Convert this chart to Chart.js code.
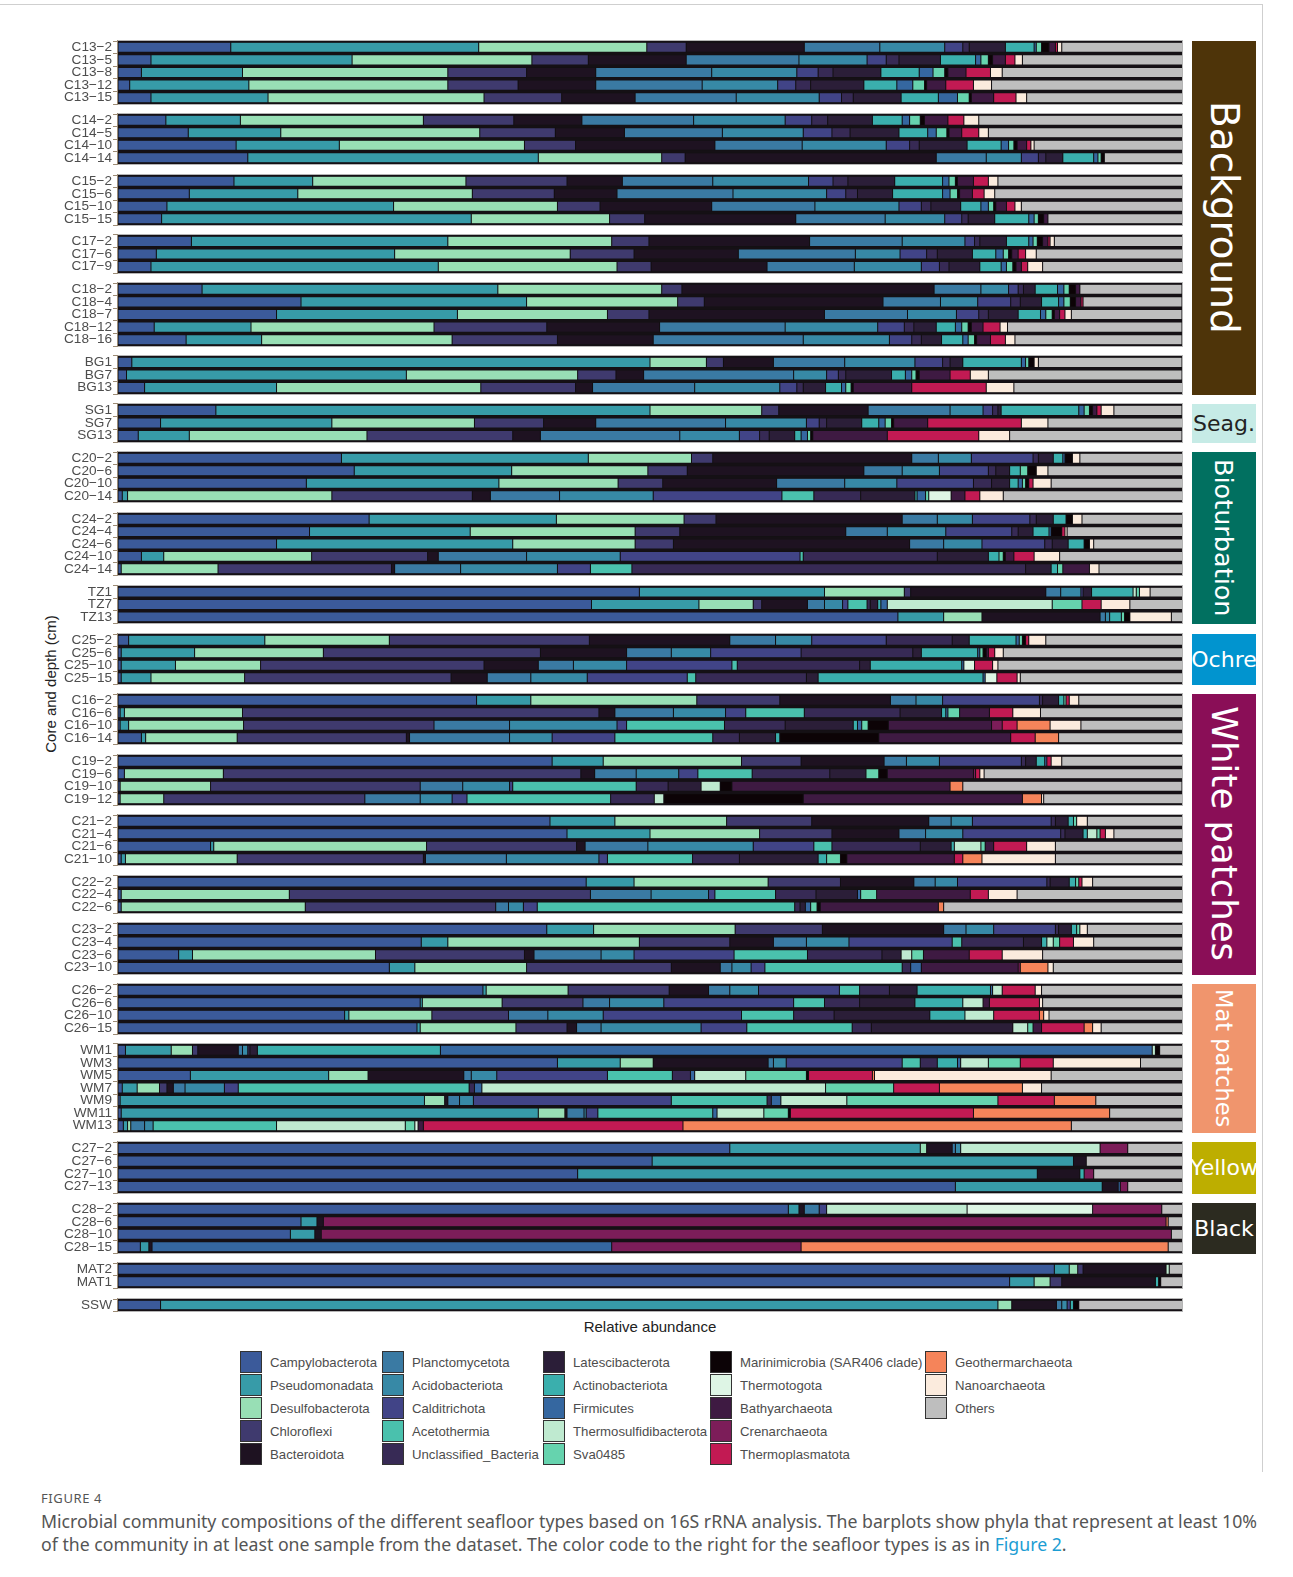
<!DOCTYPE html>
<html>
<head>
<meta charset="utf-8">
<script src="https://cdn.jsdelivr.net/npm/chart.js@4.4.0/dist/chart.umd.min.js"></script>
<style>
  body { margin: 0; background: #fff; }
  #lienzo { position: relative; width: 1293px; height: 1577px; overflow: hidden; font-family: "Liberation Sans", Arial, sans-serif; }
  .panel { position: absolute; left: 0; }
  .franja { position: absolute; left: 1192px; width: 64px; display: flex; align-items: center; justify-content: center; overflow: hidden; font-family: "DejaVu Sans", sans-serif; white-space: nowrap; }
  .vertical { writing-mode: vertical-rl; }
  .item { position: absolute; height: 22px; display: flex; align-items: center; font-size: 13.2px; color: #4d4d4d; white-space: nowrap; }
  .caja { width: 20px; height: 20px; border: 1px solid #333; margin-right: 8px; flex: none; }
  .titulo { position: absolute; font-size: 15px; color: #222; white-space: nowrap; }
  .pie { position: absolute; left: 41px; font-family: "Noto Sans", sans-serif; color: #555; white-space: nowrap; }
</style>
</head>
<body>
<div id="lienzo">
  <div style="position:absolute;left:0;top:4px;width:1262px;height:1px;background:#cfcfcf"></div>
  <div style="position:absolute;left:1262px;top:4px;width:1px;height:1468px;background:#cfcfcf"></div>
  <div class="titulo" style="left:50px;top:684px;transform:translate(-50%,-50%) rotate(-90deg)">Core and depth (cm)</div>
  <div class="titulo" style="left:650px;top:1326px;transform:translate(-50%,-50%)">Relative abundance</div>
  <div class="pie" style="top:1489px;font-size:13px;letter-spacing:0.6px">FIGURE 4</div>
  <div class="pie" style="top:1509px;font-size:17.7px">Microbial community compositions of the different seafloor types based on 16S rRNA analysis. The barplots show phyla that represent at least 10%</div>
  <div class="pie" style="top:1532px;font-size:17.7px">of the community in at least one sample from the dataset. The color code to the right for the seafloor types is as in <span style="color:#1c9dd3">Figure 2</span>.</div>
</div>
<script>
const phyla = ["Campylobacterota", "Pseudomonadata", "Desulfobacterota", "Chloroflexi", "Bacteroidota",
    "Planctomycetota", "Acidobacteriota", "Calditrichota", "Acetothermia", "Unclassified_Bacteria",
    "Latescibacterota", "Actinobacteriota", "Firmicutes", "Thermosulfidibacterota", "Sva0485",
    "Marinimicrobia (SAR406 clade)", "Thermotogota", "Bathyarchaeota", "Crenarchaeota", "Thermoplasmatota",
    "Geothermarchaeota", "Nanoarchaeota", "Others"];

const colores = ["#3b5a9a", "#379ba8", "#98dfb5", "#3f3a6e", "#1e1221",
    "#3a7aa3", "#3789a6", "#414487", "#4ac1ad", "#372a55",
    "#2b1e38", "#3aafad", "#3567a0", "#bfead0", "#66d3ae",
    "#0c0306", "#def5e5", "#3e1a42", "#7c1d59", "#c21a53",
    "#f5845a", "#fbebdd", "#bebebe"];

// columnas: Ca Ps De Ch Ba Pl Ac Cd At Un La Act Fi Ts Sv Ma Tt By Cr Tp Ge Na Ot
const c13Labels = ["C13−2", "C13−5", "C13−8", "C13−12", "C13−15"];
const c13Values = [
    [10.6, 23.3, 15.8, 3.7, 11.1, 7.1, 6.1, 1.7, 0, 0.6, 3.4, 2.7, 0.2, 0, 0.5, 0.7, 0, 0.6, 0, 0.2, 0, 0.4, 11.5],
    [3.1, 18.9, 16.9, 5.3, 9.2, 10.6, 6.4, 1.8, 0, 1.2, 3.9, 3.3, 0.5, 0, 0.7, 0.4, 0, 1.2, 0, 0.9, 0, 0.7, 15.2],
    [2.2, 9.5, 19.3, 7.4, 6.5, 10.9, 8.0, 2.0, 0, 1.4, 4.5, 3.6, 1.3, 0, 1.1, 0.3, 0, 1.7, 0, 2.3, 0, 1.1, 17.1],
    [1.1, 11.2, 18.7, 6.6, 7.3, 10.0, 7.1, 1.7, 0, 1.4, 5.0, 3.1, 1.5, 0, 1.1, 0.2, 0, 1.8, 0, 2.6, 0, 1.7, 18.0],
    [3.1, 11.0, 20.3, 7.3, 6.9, 9.5, 7.8, 2.1, 0, 1.1, 4.5, 3.5, 1.8, 0, 1.1, 0.2, 0, 2.1, 0, 2.1, 0, 1.0, 14.7]
];

const c14Labels = ["C14−2", "C14−5", "C14−10", "C14−14"];
const c14Values = [
    [4.5, 7.0, 17.2, 8.5, 6.4, 10.5, 8.6, 2.5, 0, 1.5, 4.2, 2.8, 0.7, 0, 1.0, 0.4, 0, 2.2, 0, 1.5, 0, 1.4, 19.2],
    [6.6, 8.7, 18.7, 7.1, 6.5, 9.2, 7.6, 2.7, 0, 1.7, 4.6, 2.7, 0.8, 0, 1.0, 0.2, 0, 1.2, 0, 1.6, 0, 0.9, 18.3],
    [11.1, 9.7, 17.4, 4.8, 13.1, 8.2, 7.9, 2.2, 0, 0.9, 4.5, 3.2, 0.7, 0, 0.5, 0.3, 0, 0.9, 0, 0.4, 0, 0.3, 14.0],
    [12.2, 27.3, 11.6, 2.2, 23.6, 4.7, 3.3, 1.6, 0, 0.7, 1.6, 2.9, 0.4, 0, 0.3, 0.3, 0, 0, 0, 0, 0, 0, 7.4]
];

const c15Labels = ["C15−2", "C15−6", "C15−10", "C15−15"];
const c15Values = [
    [10.9, 7.4, 14.4, 9.5, 5.2, 8.5, 9.0, 2.3, 0, 1.4, 4.4, 4.5, 0.6, 0, 0.6, 0.2, 0, 1.5, 0, 1.4, 0, 0.9, 17.4],
    [6.7, 10.2, 16.4, 7.7, 5.9, 10.9, 8.8, 1.8, 0, 1.1, 3.3, 4.7, 0.7, 0, 0.7, 0.2, 0, 1.2, 0, 1.1, 0, 1.0, 17.7],
    [4.6, 21.3, 15.4, 4.0, 10.5, 9.7, 7.9, 2.1, 0, 0.9, 2.8, 1.9, 0.7, 0, 0.5, 0.2, 0, 1.0, 0, 0.8, 0, 0.6, 15.2],
    [4.1, 29.1, 13.0, 3.3, 14.2, 8.4, 5.6, 1.6, 0, 0.6, 2.5, 3.2, 0.5, 0, 0.4, 0.5, 0, 0.4, 0, 0, 0, 0, 12.7]
];

const c17Labels = ["C17−2", "C17−6", "C17−9"];
const c17Values = [
    [6.9, 24.1, 15.4, 3.5, 15.1, 8.7, 5.9, 0.9, 0, 0.5, 2.5, 2.1, 0.4, 0, 0.4, 0.5, 0, 0.5, 0, 0.2, 0, 0.4, 12.1],
    [3.6, 22.4, 16.5, 6.0, 9.8, 11.0, 4.2, 2.5, 0, 1.0, 3.3, 2.2, 0.7, 0, 0.5, 0.3, 0, 0.6, 0, 0.7, 0, 1.0, 13.8],
    [3.1, 27.0, 16.8, 3.2, 10.9, 8.2, 6.3, 1.7, 0, 0.9, 2.9, 2.0, 0.5, 0, 0.6, 0.3, 0, 0.5, 0, 0.6, 0, 1.4, 13.2]
];

const c18Labels = ["C18−2", "C18−4", "C18−7", "C18−12", "C18−16"];
const c18Values = [
    [7.9, 27.8, 15.4, 1.9, 23.7, 4.4, 2.6, 0.9, 0, 0.5, 1.1, 2.1, 0.6, 0, 0.5, 0.6, 0, 0.4, 0, 0, 0, 0, 9.6],
    [17.2, 21.2, 14.2, 2.5, 16.8, 5.4, 3.5, 3.1, 0, 0.9, 2.0, 1.6, 0.5, 0, 0.6, 0.5, 0, 0.5, 0, 0.2, 0, 0, 9.3],
    [14.9, 17.0, 14.1, 3.9, 16.5, 7.8, 4.6, 2.1, 0, 0.9, 2.8, 2.1, 0.5, 0, 0.6, 0.2, 0, 0.5, 0, 0.5, 0, 0.6, 10.4],
    [3.4, 9.1, 17.2, 10.6, 10.6, 11.8, 8.7, 2.5, 0, 0.9, 2.1, 1.8, 0.6, 0, 0.6, 0.3, 0, 1.1, 0, 1.6, 0, 0.7, 16.4],
    [6.4, 7.1, 17.9, 9.9, 9.0, 14.1, 8.1, 2.1, 0, 0.9, 1.9, 2.0, 0.5, 0, 0.6, 0.2, 0, 1.3, 0, 1.4, 0, 0.9, 15.7]
];

const bgLabels = ["BG1", "BG7", "BG13"];
const bgValues = [
    [1.3, 48.7, 5.3, 1.6, 4.7, 6.7, 6.6, 2.6, 0, 0.7, 1.2, 5.5, 0.4, 0, 0.3, 0.5, 0, 0, 0, 0, 0, 0.4, 13.5],
    [0.8, 26.3, 16.1, 3.6, 2.6, 14.1, 3.1, 1.1, 0, 0.7, 4.3, 1.3, 0.6, 0, 0.4, 0.3, 0, 2.9, 0, 1.9, 0, 1.7, 18.2],
    [2.5, 12.4, 19.2, 8.9, 1.6, 9.6, 8.0, 1.6, 0, 0.6, 2.1, 1.5, 0.4, 0, 0.5, 0.2, 0, 5.5, 0, 7.0, 0, 2.6, 16.0]
];

const sgLabels = ["SG1", "SG7", "SG13"];
const sgValues = [
    [9.2, 40.8, 10.5, 1.6, 8.4, 7.7, 3.1, 0.9, 0, 0.5, 0.3, 7.3, 0.5, 0, 0.5, 0.3, 0, 0.4, 0, 0.4, 0, 1.2, 6.4],
    [4.0, 16.1, 13.4, 6.5, 4.9, 12.2, 7.6, 1.2, 0, 0.7, 3.3, 1.6, 0.6, 0, 0.6, 0.2, 0, 3.2, 0, 8.8, 0, 2.5, 12.8],
    [1.9, 4.8, 16.7, 13.7, 2.6, 13.1, 5.6, 1.9, 0, 0.9, 2.4, 0.6, 0.6, 0, 0.3, 0.2, 0, 7.0, 0, 8.6, 0, 2.9, 16.2]
];

const c20Labels = ["C20−2", "C20−6", "C20−10", "C20−14"];
const c20Values = [
    [21.0, 23.2, 9.7, 2.0, 18.7, 2.5, 3.1, 5.8, 0, 0.5, 1.4, 0.9, 0.2, 0, 0, 0.7, 0, 0, 0, 0, 0, 0.7, 9.7],
    [22.2, 14.8, 12.8, 3.7, 16.6, 3.6, 3.5, 4.6, 0, 0.7, 1.3, 1.0, 0, 0, 0.7, 0.8, 0, 0, 0, 0, 0, 1.1, 12.7],
    [17.7, 18.1, 11.2, 4.2, 10.7, 6.4, 4.9, 7.2, 0, 1.7, 1.7, 0.8, 0.4, 0, 0.3, 0.3, 0, 0, 0, 0.4, 0, 1.7, 12.4],
    [0.4, 0.5, 19.2, 13.2, 1.7, 6.5, 8.8, 12.1, 3.0, 4.4, 5.1, 0.2, 0.8, 0, 0.3, 0, 2.1, 1.3, 0, 1.4, 0, 2.2, 16.9]
];

const c24Labels = ["C24−2", "C24−4", "C24−6", "C24−10", "C24−14"];
const c24Values = [
    [23.6, 17.6, 12.0, 3.0, 17.5, 3.3, 3.3, 5.4, 0, 0.6, 1.6, 1.2, 0, 0, 0, 0.6, 0, 0, 0, 0, 0, 0.9, 9.5],
    [18.0, 15.1, 15.5, 4.2, 15.6, 3.9, 5.5, 6.2, 0, 0.6, 1.4, 1.5, 0.2, 0, 0, 1.0, 0, 0, 0, 0.3, 0, 0.2, 10.9],
    [14.9, 22.2, 11.5, 3.6, 22.2, 3.2, 3.6, 5.9, 0, 0.7, 1.5, 1.5, 0, 0, 0, 0.5, 0, 0, 0, 0, 0, 0.4, 8.4],
    [2.2, 2.1, 13.9, 10.9, 1.0, 8.3, 8.8, 16.9, 0.3, 12.6, 4.8, 1.0, 0, 0, 0.4, 0.2, 0, 0.8, 0, 1.9, 0, 2.4, 11.6],
    [0.3, 0, 9.1, 16.3, 0.3, 6.2, 9.1, 3.1, 3.9, 37.0, 2.4, 0.6, 0, 0, 0.5, 0, 0, 2.5, 0, 0, 0, 0.9, 7.9]
];

const tzLabels = ["TZ1", "TZ7", "TZ13"];
const tzValues = [
    [49.0, 17.4, 7.5, 0.6, 12.7, 1.4, 1.9, 0.2, 0, 0, 0.8, 3.9, 0, 0.3, 0.3, 0, 0, 0, 0, 0, 0, 1.0, 3.1],
    [44.5, 10.1, 5.1, 0.8, 4.3, 1.6, 1.7, 0.5, 1.8, 0.3, 0.7, 0.3, 0.6, 15.5, 2.8, 0, 0, 0, 0, 1.8, 0, 2.7, 5.0],
    [73.3, 4.3, 3.6, 0, 11.1, 0.5, 0.4, 0, 0, 0, 0, 1.1, 0, 0, 0.3, 0.5, 0, 0, 0, 0, 0, 3.9, 1.1]
];

const c25Labels = ["C25−2", "C25−6", "C25−10", "C25−15"];
const c25Values = [
    [1.0, 12.8, 11.7, 18.8, 13.2, 4.3, 3.4, 7.0, 0, 6.2, 1.6, 4.4, 0.3, 0, 0.3, 0.3, 0, 0, 0, 0.3, 0, 1.6, 12.9],
    [0.3, 6.9, 12.1, 20.4, 8.1, 4.2, 3.7, 8.5, 0, 10.5, 0.8, 5.3, 0.2, 0, 0.3, 0.3, 0, 0.2, 0, 0.6, 0, 0.8, 16.9],
    [0.3, 5.1, 8.0, 21.0, 5.1, 3.3, 5.0, 9.9, 0.5, 11.5, 1.0, 8.6, 0.2, 0, 0, 0, 1.0, 0, 0, 1.7, 0, 0.5, 17.4],
    [0.3, 2.8, 8.8, 19.4, 3.4, 4.1, 5.3, 9.4, 0.8, 10.4, 1.1, 15.5, 0.2, 0, 0, 0, 1.1, 0, 0, 1.9, 0, 0.3, 15.3]
];

const c16Labels = ["C16−2", "C16−6", "C16−10", "C16−14"];
const c16Values = [
    [33.7, 5.1, 15.6, 7.8, 10.4, 2.4, 2.5, 9.1, 0, 0.3, 1.5, 0.5, 0, 0, 0.2, 0, 0, 0, 0, 0.3, 0, 0.9, 9.8],
    [0.2, 0.4, 11.1, 33.5, 1.5, 5.5, 4.9, 1.9, 5.5, 9.0, 3.9, 0.4, 0.2, 0, 1.1, 0, 0, 2.8, 0, 2.2, 0, 2.6, 13.4],
    [0.2, 0.8, 10.8, 17.9, 0, 7.1, 10.1, 0.9, 9.2, 5.7, 6.4, 0.4, 0.4, 0, 0.6, 1.9, 0, 9.7, 1.0, 1.4, 3.1, 2.9, 9.6],
    [2.2, 0.4, 8.6, 15.9, 0.3, 9.4, 4.0, 5.9, 9.2, 2.5, 3.4, 0.4, 0, 0, 0, 9.3, 0, 12.4, 0, 2.3, 2.2, 0, 11.7]
];

const c19Labels = ["C19−2", "C19−6", "C19−10", "C19−12"];
const c19Values = [
    [40.8, 4.8, 13.0, 5.6, 7.8, 2.1, 3.1, 7.7, 0, 0.4, 1.0, 0.8, 0.2, 0, 0, 0, 0, 0, 0, 0.4, 0, 1.0, 11.4],
    [0.6, 0, 9.3, 33.6, 1.3, 3.9, 4.0, 1.8, 5.1, 7.3, 3.4, 0, 0, 0, 1.2, 0.8, 0, 8.1, 0.2, 0.4, 0, 0.4, 18.7],
    [0.2, 0, 8.5, 19.7, 0, 4.0, 4.4, 0.3, 11.6, 3.0, 3.1, 0, 0, 1.8, 0, 1.1, 0, 20.5, 0, 0, 1.2, 0, 20.6],
    [0.2, 0, 4.1, 18.9, 0, 5.2, 3.0, 1.4, 13.5, 4.1, 0, 0, 0, 0.9, 0, 13.1, 0, 20.6, 0, 0, 1.8, 0.2, 13.1]
];

const c21Labels = ["C21−2", "C21−4", "C21−6", "C21−10"];
const c21Values = [
    [40.6, 6.1, 10.5, 8.0, 11.0, 2.1, 2.0, 7.4, 0, 0.4, 1.2, 0.5, 0, 0, 0.3, 0, 0, 0, 0, 0, 0, 1.0, 9.0],
    [42.2, 7.8, 10.3, 6.8, 6.3, 2.5, 3.5, 9.2, 0, 0.4, 1.7, 0.4, 0, 0.9, 0.3, 0, 0, 0, 0, 0.5, 0, 0.8, 6.5],
    [8.7, 0.3, 20.0, 14.1, 0.8, 5.9, 9.9, 5.7, 1.7, 8.3, 2.9, 0.3, 0, 2.5, 0.4, 0, 0, 0.8, 0, 3.1, 0, 2.7, 12.1],
    [0.3, 0.4, 10.5, 17.5, 0.2, 7.6, 8.7, 0.8, 8.0, 4.4, 7.4, 0.8, 0, 0, 1.3, 0.6, 0, 10.1, 0, 0.8, 1.8, 6.9, 12.0]
];

const c22Labels = ["C22−2", "C22−4", "C22−6"];
const c22Values = [
    [44.0, 4.5, 12.6, 6.8, 6.9, 2.0, 2.1, 8.4, 0, 0.3, 1.8, 0.6, 0, 0, 0.3, 0, 0, 0, 0, 0.3, 0, 1.0, 8.5],
    [0.3, 0, 15.8, 28.3, 0, 5.7, 5.4, 0.6, 5.7, 3.8, 3.9, 0, 0.3, 0, 1.5, 0, 0, 8.8, 0, 1.7, 0, 2.7, 15.6],
    [0.3, 0, 17.3, 17.9, 0, 1.2, 1.4, 1.3, 24.2, 0.5, 0.5, 0, 0.5, 0, 0.6, 0.3, 0, 11.1, 0, 0, 0.5, 0, 22.5]
];

const c23Labels = ["C23−2", "C23−4", "C23−6", "C23−10"];
const c23Values = [
    [40.3, 4.4, 13.3, 8.2, 11.4, 2.1, 2.6, 5.8, 0, 0.3, 1.2, 0.5, 0, 0, 0.3, 0, 0, 0, 0, 0, 0, 0.7, 9.0],
    [28.5, 2.5, 18.0, 8.5, 4.1, 3.1, 4.0, 9.7, 0.9, 5.8, 1.7, 0.5, 0, 0.6, 0.6, 0, 0, 0, 0, 1.3, 0, 1.9, 8.4],
    [5.7, 1.3, 17.2, 14.0, 0.9, 6.3, 3.1, 9.4, 6.9, 7.0, 1.8, 0, 0, 1.0, 1.1, 0, 0, 4.3, 0, 3.1, 0, 3.8, 13.2],
    [25.5, 2.4, 10.5, 13.6, 4.6, 1.1, 1.8, 1.3, 12.9, 0.8, 0, 0, 1.0, 0, 0, 0, 0, 9.1, 0.2, 0, 2.6, 0.5, 12.2]
];

const c26Labels = ["C26−2", "C26−6", "C26−10", "C26−15"];
const c26Values = [
    [34.3, 0.3, 7.7, 9.5, 3.7, 2.0, 2.7, 7.6, 1.9, 2.8, 2.6, 6.9, 0.2, 0.9, 0, 0, 0, 0, 0, 3.1, 0, 0.6, 13.3],
    [28.4, 0.2, 7.5, 7.6, 0, 2.5, 5.1, 12.2, 2.9, 3.3, 5.2, 4.5, 0, 1.9, 0, 0, 0, 0.6, 0, 4.7, 0, 0.3, 13.2],
    [21.3, 0.4, 7.8, 7.2, 0, 3.7, 5.2, 13.0, 4.9, 3.8, 9.0, 3.3, 0, 2.7, 0, 0, 0, 0, 0, 4.3, 0.4, 0.5, 12.6],
    [28.1, 0.3, 9.0, 4.8, 0.9, 2.3, 9.4, 4.3, 9.9, 1.8, 13.3, 0, 0, 1.4, 0.5, 0, 0, 0.8, 0, 4.0, 0.8, 0.8, 7.7]
];

const wmLabels = ["WM1", "WM3", "WM5", "WM7", "WM9", "WM11", "WM13"];
const wmValues = [
    [0.7, 4.3, 2.0, 0.5, 3.8, 0.4, 0.5, 0, 0, 0.2, 0.7, 17.2, 66.9, 0.3, 0, 0.4, 0, 0, 0, 0, 0, 0, 2.2],
    [41.3, 5.9, 3.1, 0, 10.8, 0.5, 1.2, 10.9, 1.7, 1.6, 0, 1.9, 0.3, 2.6, 3.0, 0, 0, 0, 0, 3.1, 0, 8.2, 4.0],
    [6.8, 13.0, 3.7, 0, 9.0, 0.7, 2.4, 10.4, 6.1, 1.7, 0, 0, 0.4, 4.8, 5.7, 0.2, 0, 0, 0, 6.0, 0.2, 16.6, 12.4],
    [0.4, 1.4, 2.1, 0.7, 0.6, 1.1, 3.7, 1.3, 21.7, 0.5, 0, 0, 0.7, 32.3, 6.4, 0, 0, 0, 0, 4.3, 7.8, 1.8, 13.3],
    [0.2, 28.6, 1.9, 0, 0.3, 1.1, 1.3, 18.6, 9.0, 0.4, 0, 0, 0.9, 6.2, 14.2, 0, 0, 0, 0, 5.3, 3.9, 0, 8.2],
    [0.3, 39.2, 2.5, 0, 0.2, 1.6, 0.2, 1.1, 10.8, 0, 0, 0, 0.4, 4.4, 2.3, 0.2, 0, 0, 0, 17.2, 12.8, 0, 6.9],
    [0.5, 0.4, 0.3, 0, 0, 1.3, 0.8, 0, 11.6, 0, 0, 0, 0, 12.1, 0.9, 0, 0.3, 0.5, 0, 24.4, 36.5, 0, 10.5]
];

const c27Labels = ["C27−2", "C27−6", "C27−10", "C27−13"];
const c27Values = [
    [57.5, 17.9, 0.6, 0, 2.4, 0.3, 0.5, 0, 0, 0, 0, 0, 0, 13.1, 0, 0, 0, 0, 2.6, 0, 0, 0, 5.2],
    [50.2, 39.6, 0, 0, 1.2, 0, 0, 0, 0, 0, 0, 0, 0, 0, 0, 0, 0, 0, 0, 0, 0, 0, 9.1],
    [43.2, 43.2, 0, 0, 4.0, 0, 0, 0, 0, 0, 0, 0.4, 0, 0, 0, 0, 0, 0, 0.9, 0, 0, 0, 8.4],
    [78.7, 13.8, 0, 0, 1.5, 0, 0, 0, 0, 0, 0, 0, 0.2, 0, 0, 0, 0, 0, 0.7, 0, 0, 0, 5.2]
];

const c28Labels = ["C28−2", "C28−6", "C28−10", "C28−15"];
const c28Values = [
    [63.0, 1.0, 0, 0, 0.5, 1.4, 0, 0.7, 0, 0, 0, 0, 0, 13.2, 0, 0, 11.8, 0, 6.5, 0, 0, 0, 2.0],
    [17.2, 1.5, 0, 0, 0.6, 0, 0, 0, 0, 0, 0, 0, 0, 0, 0, 0, 0, 0, 79.2, 0, 0.2, 0, 1.4],
    [16.2, 2.3, 0, 0, 0.6, 0, 0, 0, 0, 0, 0, 0, 0, 0, 0, 0, 0, 0, 79.9, 0, 0, 0, 1.1],
    [2.1, 0.8, 0, 0, 0.3, 0, 0, 0, 0, 0, 0, 0, 43.2, 0, 0, 0, 0, 0, 17.8, 0, 34.5, 0, 1.4]
];

const matLabels = ["MAT2", "MAT1"];
const matValues = [
    [88.0, 1.4, 0.8, 0.5, 7.8, 0, 0, 0, 0, 0, 0, 0, 0, 0.3, 0, 0, 0, 0, 0, 0, 0, 0, 1.3],
    [83.8, 2.3, 1.5, 1.1, 8.8, 0, 0, 0, 0, 0, 0, 0.3, 0, 0, 0, 0.2, 0, 0, 0, 0, 0, 0, 2.1]
];

const sswLabels = ["SSW"];
const sswValues = [
    [4.0, 78.7, 1.3, 0, 4.2, 0.5, 0.5, 0.3, 0, 0, 0, 0.3, 0, 0, 0, 0.5, 0, 0, 0, 0, 0, 0, 9.8]
];

const paneles = [
    [c13Labels, c13Values], [c14Labels, c14Values], [c15Labels, c15Values], [c17Labels, c17Values],
    [c18Labels, c18Values], [bgLabels, bgValues], [sgLabels, sgValues], [c20Labels, c20Values],
    [c24Labels, c24Values], [tzLabels, tzValues], [c25Labels, c25Values], [c16Labels, c16Values],
    [c19Labels, c19Values], [c21Labels, c21Values], [c22Labels, c22Values], [c23Labels, c23Values],
    [c26Labels, c26Values], [wmLabels, wmValues], [c27Labels, c27Values], [c28Labels, c28Values],
    [matLabels, matValues], [sswLabels, sswValues]
];

// tipos de fondo marino y los paneles que abarcan (desde, hasta)
const tiposFondo = ["Background", "Seag.", "Bioturbation", "Ochre", "White patches", "Mat patches", "Yellow", "Black"];
const tiposRango = [[0, 5], [6, 6], [7, 9], [10, 10], [11, 15], [16, 17], [18, 18], [19, 19]];
const tiposEstilo = [
    { bg: "#4e3409", fg: "#fff", size: 39, vertical: true },
    { bg: "#c6ebe6", fg: "#222", size: 22, vertical: false },
    { bg: "#017060", fg: "#fff", size: 25.5, vertical: true },
    { bg: "#0194cf", fg: "#fff", size: 22, vertical: false },
    { bg: "#8a0e57", fg: "#fff", size: 35.5, vertical: true },
    { bg: "#f0956d", fg: "#fff", size: 22.5, vertical: true },
    { bg: "#bdae00", fg: "#fff", size: 22, vertical: false },
    { bg: "#2c2b20", fg: "#fff", size: 22, vertical: false }
];

const PASO = 12.52, HUECO = 10.4, TOPE = 41.3, PAD = 4;
const lienzo = document.getElementById("lienzo");

const marcoPanel = {
    id: "marcoPanel",
    beforeDatasetsDraw(chart) {
        const { ctx, chartArea: a } = chart;
        ctx.save();
        ctx.fillStyle = "#151015";
        ctx.fillRect(a.left, a.top, a.right - a.left, a.bottom - a.top);
        ctx.restore();
    },
    afterDraw(chart) {
        const { ctx, chartArea: a } = chart;
        ctx.save();
        ctx.lineWidth = 1;
        ctx.strokeStyle = "#b5b5b5";
        ctx.strokeRect(a.left - 0.5, a.top - 0.5, a.right - a.left + 1, a.bottom - a.top + 1);
        ctx.strokeStyle = "#9c8b75";
        ctx.beginPath();
        ctx.moveTo(a.left - 0.5, a.top - 1);
        ctx.lineTo(a.left - 0.5, a.bottom + 1);
        ctx.stroke();
        ctx.restore();
    }
};

function dibujarPanel(labels, valores, y0, y1) {
    const canvas = document.createElement("canvas");
    const top = Math.round(y0) - PAD;
    canvas.width = 1186;
    canvas.height = Math.round(y1) - Math.round(y0) + 2 * PAD;
    canvas.className = "panel";
    canvas.style.top = top + "px";
    lienzo.appendChild(canvas);

    const datasets = phyla.map((nombre, k) => ({
        label: nombre,
        data: valores.map(fila => fila[k] || null),
        backgroundColor: colores[k],
        borderColor: "#111",
        borderWidth: 0.5,
        borderSkipped: false,
        barPercentage: 0.8,
        categoryPercentage: 1
    }));

    new Chart(canvas.getContext("2d"), {
        type: "bar",
        data: { labels, datasets },
        options: {
            indexAxis: "y",
            responsive: false,
            animation: false,
            devicePixelRatio: 1,
            layout: { autoPadding: false, padding: { top: PAD, bottom: PAD, left: 0, right: 4 } },
            scales: {
                x: { display: false, stacked: true, min: 0, max: 100 },
                y: {
                    stacked: true,
                    afterFit(scale) {
                        scale.width = 118;
                        scale.paddingTop = 0;
                        scale.paddingBottom = 0;
                    },
                    ticks: { autoSkip: false, color: "#4d4d4d", padding: 1, font: { family: "Liberation Sans", size: 13.6, lineHeight: 0.1 } },
                    grid: { drawOnChartArea: false, drawTicks: true, tickLength: 5, color: "#9c8b75" },
                    border: { display: false }
                }
            },
            plugins: { legend: { display: false }, tooltip: { enabled: false } }
        },
        plugins: [marcoPanel]
    });
}

const limites = [];
let y = TOPE;
paneles.forEach(([labels, valores]) => {
    const h = labels.length * PASO;
    limites.push([y, y + h]);
    dibujarPanel(labels, valores, y, y + h);
    y += h + HUECO;
});

// franjas de tipo de fondo a la derecha
tiposFondo.forEach((texto, i) => {
    const [desde, hasta] = tiposRango[i];
    const est = tiposEstilo[i];
    const top = Math.round(limites[desde][0]) - 0.5;
    const bottom = Math.round(limites[hasta][1]) + 0.5;
    const div = document.createElement("div");
    div.className = "franja";
    div.style.top = top + "px";
    div.style.height = (bottom - top) + "px";
    div.style.background = est.bg;
    const span = document.createElement("span");
    span.textContent = texto;
    span.style.color = est.fg;
    span.style.fontSize = est.size + "px";
    if (est.vertical) span.className = "vertical";
    div.appendChild(span);
    lienzo.appendChild(div);
});

// leyenda
const leyendaX = [240, 382, 543, 710, 925];
phyla.forEach((nombre, k) => {
    const col = Math.floor(k / 5), fila = k % 5;
    const item = document.createElement("div");
    item.className = "item";
    item.style.left = leyendaX[col] + "px";
    item.style.top = (1351 + fila * 23) + "px";
    item.innerHTML = `<span class="caja" style="background:${colores[k]}"></span><span>${nombre}</span>`;
    lienzo.appendChild(item);
});
</script>
</body>
</html>
